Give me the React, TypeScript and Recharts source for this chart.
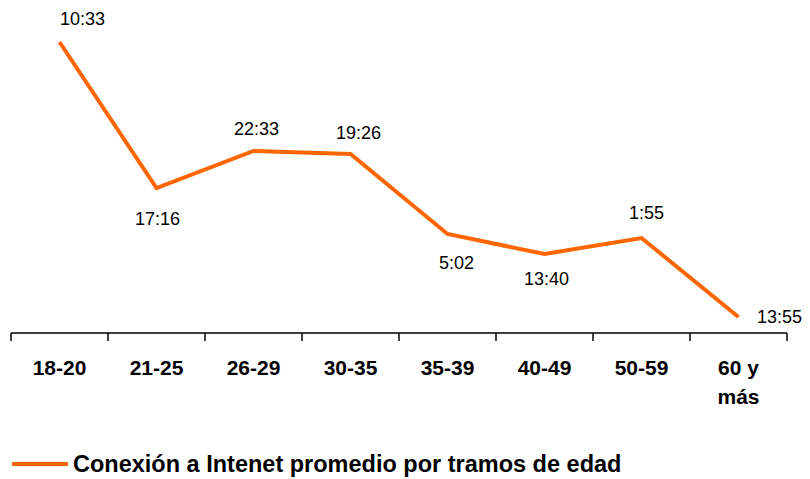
import { LineChart, Line, XAxis, YAxis, LabelList, Legend } from "recharts";

const categorias = ["18-20", "21-25", "26-29", "30-35", "35-39", "40-49", "50-59", "60 y más"];
const promedio = [29.1, 14.5, 18.2, 17.9, 9.9, 7.9, 9.5, 1.6];
const etiquetas = ["10:33", "17:16", "22:33", "19:26", "5:02", "13:40", "1:55", "13:55"];

// where each value label sits relative to its point [dx, dy]
const labelOffsets = [
  [23, -23],
  [1, 31],
  [3, -22],
  [8, -21],
  [9, 29],
  [2, 25],
  [5, -25],
  [41, 0],
];

const FONT = "'Liberation Sans', Arial, sans-serif";
const ORANGE = "#FF6600";
const W = 800;
const H = 471;
const MARGIN = { top: 25, right: 21, bottom: 0, left: 3 };
const BAND = (W - MARGIN.left - MARGIN.right) / categorias.length;

const data = categorias.map((c, i) => ({ tramo: c, valor: promedio[i], etiqueta: etiquetas[i] }));

function AgeTick(props: any) {
  const { x, y, payload, index } = props;
  const label: string = payload.value;
  const cut = label.lastIndexOf(" ");
  const lines = label.length > 6 ? [label.slice(0, cut), label.slice(cut + 1)] : [label];
  const last = index === categorias.length - 1;
  return (
    <g>
      <line x1={x - BAND / 2} x2={x - BAND / 2} y1={y} y2={y + 8} stroke="#000" strokeWidth={1.5} />
      {last && <line x1={x + BAND / 2} x2={x + BAND / 2} y1={y} y2={y + 8} stroke="#000" strokeWidth={1.5} />}
      {lines.map((l, i) => (
        <text key={i} x={x} y={y + 42 + i * 29} textAnchor="middle" fontFamily={FONT} fontWeight="bold" fontSize={21} fill="#000">
          {l}
        </text>
      ))}
    </g>
  );
}

function ValueLabel(props: any) {
  const { x, y, value, index } = props;
  const [dx, dy] = labelOffsets[index];
  return (
    <text x={x + dx} y={y + dy} textAnchor="middle" dominantBaseline="central" fontFamily={FONT} fontSize={18} fill="#000">
      {value}
    </text>
  );
}

function LegendBox() {
  return (
    <div style={{ height: 56 }}>
      <div style={{ marginTop: 28, height: 26, display: "flex", alignItems: "center" }}>
        <svg width={62} height={10} style={{ display: "block" }}>
          <line x1={1} x2={57} y1={5} y2={5} stroke={ORANGE} strokeWidth={4} />
        </svg>
        <span style={{ fontFamily: FONT, fontWeight: "bold", fontSize: 23.5, color: "#000", whiteSpace: "nowrap" }}>
          Conexión a Intenet promedio por tramos de edad
        </span>
      </div>
    </div>
  );
}

export default function App() {
  return (
    <LineChart width={W} height={H} data={data} margin={MARGIN}>
      <XAxis
        dataKey="tramo"
        height={90}
        interval={0}
        padding={{ left: BAND / 2, right: BAND / 2 }}
        tickSize={0}
        tickMargin={0}
        tickLine={false}
        axisLine={{ stroke: "#000", strokeWidth: 1.5 }}
        tick={<AgeTick />}
      />
      <YAxis hide domain={[0, 30]} />
      <Legend verticalAlign="bottom" height={56} content={<LegendBox />} />
      <Line
        type="linear"
        dataKey="valor"
        stroke={ORANGE}
        strokeWidth={4}
        dot={false}
        activeDot={false}
        isAnimationActive={false}
      >
        <LabelList dataKey="etiqueta" content={<ValueLabel />} />
      </Line>
    </LineChart>
  );
}
